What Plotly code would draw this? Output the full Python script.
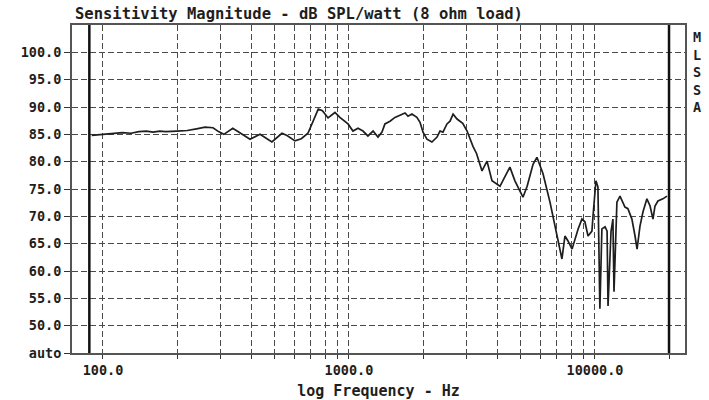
import plotly.graph_objects as go

# ---- data ----
freq_hz = [90, 95, 100, 110, 120, 130, 140, 150, 160, 170, 180, 200, 220, 240, 260, 280,
           295, 310, 337, 360, 396, 435, 486, 534, 560, 603, 640, 681, 715, 750, 780, 822,
           877, 918, 991, 1038, 1088, 1140, 1194, 1253, 1312, 1362, 1400, 1468, 1538, 1611,
           1690, 1738, 1803, 1888, 1944, 2000, 2075, 2173, 2280, 2344, 2410, 2502, 2575,
           2650, 2750, 2900, 3020, 3192, 3300, 3474, 3640, 3814, 4110, 4300, 4510, 4727,
           5096, 5300, 5600, 5808, 6150, 6563, 6880, 7080, 7340, 7550, 7770, 8070, 8300,
           8540, 8850, 9100, 9370, 9720, 9820, 10090, 10280, 10470, 10670, 10990, 11200,
           11300, 11620, 11830, 11950, 12280, 12640, 12880, 13240, 13610, 14130, 14550,
           14830, 15240, 15670, 16260, 16750, 17210, 17540, 18030, 18880, 19630]
spl_db = [84.8, 84.9, 85.0, 85.1, 85.3, 85.2, 85.5, 85.6, 85.4, 85.6, 85.5, 85.6, 85.7,
          86.0, 86.3, 86.2, 85.5, 85.0, 86.1, 85.3, 84.1, 85.0, 83.6, 85.2, 84.8, 83.8,
          84.2, 85.2, 87.5, 89.6, 89.3, 88.0, 89.0, 88.1, 86.9, 85.6, 86.1, 85.6, 84.7,
          85.6, 84.5, 85.4, 86.9, 87.4, 88.1, 88.5, 88.9, 88.3, 88.7, 88.1, 87.2, 85.4,
          84.1, 83.6, 84.5, 85.6, 85.4, 86.9, 87.4, 88.7, 87.8, 87.0, 85.6, 82.8, 81.5,
          78.3, 80.1, 76.5, 75.5, 77.2, 79.0, 76.5, 73.5, 75.5, 79.5, 80.8, 77.8, 72.6,
          68.2, 65.5, 62.2, 66.4, 65.5, 64.0, 65.9, 67.7, 69.5, 69.0, 66.4, 67.3, 70.1,
          76.5, 75.4, 53.1, 67.7, 68.1, 67.3, 53.6, 67.2, 69.5, 56.2, 72.6, 73.7, 72.8,
          71.7, 71.4, 69.5, 66.4, 64.0, 68.2, 70.8, 73.2, 71.9, 69.5, 71.9, 72.8, 73.2,
          73.7]

cursor_freqs = [88, 20000]
y_range = [45, 105]

y_tickvals = [45, 50, 55, 60, 65, 70, 75, 80, 85, 90, 95, 100]
y_ticktext = ["auto", "50.0", "55.0", "60.0", "65.0", "70.0", "75.0", "80.0",
              "85.0", "90.0", "95.0", "100.0"]

x_tickvals = [m * d for d in (100, 1000) for m in range(1, 10)] + [10000, 20000]
x_labels = {100: "100.0", 1000: "1000.0", 10000: "10000.0"}
x_ticktext = [x_labels.get(v, "") for v in x_tickvals]

title_text = "Sensitivity Magnitude - dB SPL/watt (8 ohm load)"
x_title = "log Frequency - Hz"
side_text = "M<br>L<br>S<br>S<br>A"

FONT = "DejaVu Sans Mono"
INK = "#1e1e1e"
GRID = "#4a4a4a"

fig = go.Figure()

for f in cursor_freqs:
    fig.add_trace(go.Scatter(x=[f, f], y=y_range, mode="lines",
                             line=dict(color="#111111", width=2.5),
                             hoverinfo="skip", showlegend=False))

fig.add_trace(go.Scatter(x=freq_hz, y=spl_db, mode="lines",
                         line=dict(color=INK, width=1.7),
                         showlegend=False))

fig.update_layout(
    width=709, height=400,
    margin=dict(l=72, r=24, t=25, b=47),
    paper_bgcolor="white", plot_bgcolor="white",
    font=dict(family=FONT, color=INK, size=13, weight="bold"),
    title=dict(text=title_text, x=75 / 709, xanchor="left", xref="container",
               y=1 - 14 / 400, yanchor="middle", yref="container",
               font=dict(family=FONT, size=15.5, color=INK, weight="bold")),
    xaxis=dict(type="log", range=[1.874, 4.366],
               tickvals=x_tickvals, ticktext=x_ticktext,
               ticks="outside", ticklen=4, tickcolor="#333", tickwidth=1,
               showgrid=True, gridcolor=GRID, griddash="6px,3px", gridwidth=1,
               showline=True, linecolor="#555", linewidth=2, mirror=True,
               zeroline=False, automargin=False,
               tickfont=dict(family=FONT, size=13.5, color=INK, weight="bold"),
               title=dict(text=x_title, standoff=8,
                          font=dict(family=FONT, size=15, color=INK, weight="bold"))),
    yaxis=dict(range=y_range, tickvals=y_tickvals, ticktext=y_ticktext,
               ticks="outside", ticklen=6, tickcolor="#333", tickwidth=1,
               showgrid=True, gridcolor=GRID, griddash="6px,3px", gridwidth=1,
               showline=True, linecolor="#555", linewidth=2, mirror=True,
               zeroline=False, automargin=False,
               tickfont=dict(family=FONT, size=13.5, color=INK, weight="bold")),
)

fig.add_annotation(text=side_text, xref="paper", yref="paper",
                   x=1 + 6 / 613, xanchor="left", y=1 - 2 / 328, yanchor="top",
                   showarrow=False, align="left",
                   font=dict(family=FONT, size=13.5, color=INK, weight="bold"))

fig.write_html("out.html", config={"displayModeBar": False},
               post_script="document.body.style.margin='0';")
